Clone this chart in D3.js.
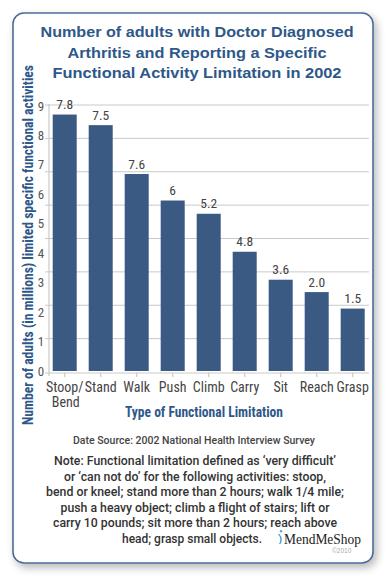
<!DOCTYPE html>
<html><head><meta charset="utf-8">
<script src="https://cdn.jsdelivr.net/npm/d3@7"></script>
<style>
html,body{margin:0;padding:0;background:#fff;}
svg{display:block;}
</style></head>
<body>
<script>
const categories = ["Stoop/|Bend","Stand","Walk","Push","Climb","Carry","Sit","Reach","Grasp"];
const barValues = [8.71, 8.35, 6.69, 5.79, 5.34, 4.05, 3.10, 2.68, 2.12];
const barLabels = ["7.8","7.5","7.6","6","5.2","4.8","3.6","2.0","1.5"];
const yTicks = [0,1,2,3,4,5,6,7,8,9];
const titleLines = ["Number of adults with Doctor Diagnosed","Arthritis and Reporting a Specific","Functional Activity Limitation in 2002"];
const noteLines = ["Note: Functional limitation defined as \u2018very difficult\u2019",
 "or \u2018can not do\u2019 for the following activities: stoop,",
 "bend or kneel; stand more than 2 hours; walk 1/4 mile;",
 "push a heavy object; climb a flight of stairs; lift or",
 "carry 10 pounds; sit more than 2 hours; reach above",
 "head; grasp small objects."];
const sourceText = "Date Source: 2002 National Health Interview Survey";
const yTitle = "Number of adults (in millions) limited specific functional activities";
const xTitle = "Type of Functional Limitation";

const W = 392, H = 581;
const blue = "#2e5889", barColor = "#3a5a84", grid = "#c9c9c9", tickCol = "#444";
const narrow = "'Liberation Sans Narrow','Roboto Condensed','DejaVu Sans Condensed',Roboto,sans-serif";
const sans = "'Liberation Sans',Arial,Helvetica,sans-serif";
const med = "Roboto,'Liberation Sans',Arial,sans-serif";

const svg = d3.select("body").append("svg").attr("width", W).attr("height", H);
const defs = svg.append("defs");
const f = defs.append("filter").attr("id","sh").attr("x","-10%").attr("y","-10%").attr("width","125%").attr("height","125%");
f.append("feGaussianBlur").attr("in","SourceAlpha").attr("stdDeviation",4);
f.append("feOffset").attr("dx",3).attr("dy",4).attr("result","b");
f.append("feComponentTransfer").append("feFuncA").attr("type","linear").attr("slope",0.28);
const fm = f.append("feMerge"); fm.append("feMergeNode"); fm.append("feMergeNode").attr("in","SourceGraphic");

svg.append("rect").attr("x",13).attr("y",13).attr("width",360).attr("height",550).attr("rx",11)
  .attr("fill","#fff").attr("stroke","#4a6b9b").attr("stroke-width",1.6).attr("filter","url(#sh)");

// title
const tw = [313, 259, 289];
svg.append("g").selectAll("text").data(titleLines).join("text")
  .attr("x",197).attr("y",(d,i)=>37+i*20.5).attr("text-anchor","middle")
  .attr("font-family",sans).attr("font-weight","bold").attr("font-size",15.5).attr("fill",blue)
  .attr("textLength",(d,i)=>tw[i]).attr("lengthAdjust","spacingAndGlyphs").text(d=>d);

const x = d3.scaleBand().domain(categories).range([46.7,370.7]).paddingInner(0.333).paddingOuter(0.1667);
const y = d3.scaleLinear().domain([0,9]).range([371,106]);
const gridY = d3.scaleLinear().domain([0,8]).range([372,105]);

// gridlines
svg.append("g").selectAll("line").data(d3.range(1,9)).join("line")
  .attr("x1",45).attr("x2",369).attr("y1",d=>gridY(d)).attr("y2",d=>gridY(d))
  .attr("stroke",grid).attr("stroke-width",1);
// y axis line
svg.append("line").attr("x1",49).attr("x2",49).attr("y1",104).attr("y2",376).attr("stroke",grid).attr("stroke-width",1.2);
// x axis line
svg.append("line").attr("x1",45).attr("x2",369).attr("y1",373).attr("y2",373).attr("stroke",grid).attr("stroke-width",1.2);
// x ticks
svg.append("g").selectAll("line").data(categories).join("line")
  .attr("x1",d=>x(d)+x.bandwidth()/2).attr("x2",d=>x(d)+x.bandwidth()/2)
  .attr("y1",373).attr("y2",377).attr("stroke",grid).attr("stroke-width",1.2);

// y tick labels
svg.append("g").selectAll("text").data(yTicks).join("text")
  .attr("x",41).attr("y",d=>y(d)+4.5).attr("text-anchor","middle")
  .attr("font-family",narrow).attr("font-size",13).attr("fill","#555").text(d=>d);

// bars
svg.append("g").selectAll("rect").data(barValues).join("rect")
  .attr("x",(d,i)=>x(categories[i])).attr("width",x.bandwidth())
  .attr("y",d=>y(d)).attr("height",d=>y(0)-y(d)).attr("fill",barColor);

// bar labels
svg.append("g").selectAll("text").data(barValues).join("text")
  .attr("x",(d,i)=>x(categories[i])+x.bandwidth()/2).attr("y",d=>y(d)-5.5)
  .attr("text-anchor","middle").attr("font-family",narrow).attr("font-size",13.5).attr("fill",tickCol)
  .text((d,i)=>barLabels[i]);

// category labels
const cl = svg.append("g").selectAll("text").data(categories).join("text")
  .attr("x",d=>x(d)+x.bandwidth()/2).attr("y",392).attr("text-anchor","middle")
  .attr("font-family",narrow).attr("font-size",14).attr("fill",tickCol);
cl.each(function(d){
  const parts = d.split("|");
  const t = d3.select(this);
  parts.forEach((p,i)=>t.append("tspan").attr("x",x(d)+x.bandwidth()/2 + (i?1:0)).attr("dy",i?15:0).text(p));
});

// axis titles
svg.append("text").attr("x",204).attr("y",417).attr("text-anchor","middle")
  .attr("font-family",narrow).attr("font-weight","bold").attr("font-size",14.5).attr("fill",blue)
  .attr("textLength",158).attr("lengthAdjust","spacingAndGlyphs").text(xTitle);
svg.append("text").attr("transform","translate(32.5,245) rotate(-90)").attr("text-anchor","middle")
  .attr("font-family",narrow).attr("font-weight","bold").attr("font-size",14.5).attr("fill",blue)
  .attr("textLength",360).attr("lengthAdjust","spacingAndGlyphs").text(yTitle);

// source
svg.append("text").attr("x",194).attr("y",444).attr("text-anchor","middle")
  .attr("font-family",med).attr("font-weight",500).attr("font-size",11.5).attr("fill","#444")
  .attr("textLength",242).attr("lengthAdjust","spacingAndGlyphs").text(sourceText);

// note
const nw = [282,262,298,269,284,140];
svg.append("g").selectAll("text").data(noteLines).join("text")
  .attr("x",(d,i)=>i===5?192:195).attr("y",(d,i)=>465+i*15.6).attr("text-anchor","middle")
  .attr("font-family",med).attr("font-weight",500).attr("font-size",13).attr("fill","#333")
  .attr("textLength",(d,i)=>nw[i]).attr("lengthAdjust","spacingAndGlyphs").text(d=>d);

// logo
svg.append("path").attr("d","M278,534 q4,5 1,10 l1.5,0 q3,-5 -1,-10 z M281,532.5 a1.3,1.3 0 1 1 0.01,0 z")
  .attr("fill","#4aa3df");
svg.append("text").attr("x",284).attr("y",544).attr("font-family","'Liberation Serif','DejaVu Serif',serif")
  .attr("font-size",15).attr("fill","#222").attr("textLength",77).attr("lengthAdjust","spacingAndGlyphs").text("MendMeShop");
svg.append("text").attr("x",332).attr("y",553).attr("font-family",sans).attr("font-size",6.5).attr("fill","#aaa").text("\u00a92010");
</script>
</body></html>
